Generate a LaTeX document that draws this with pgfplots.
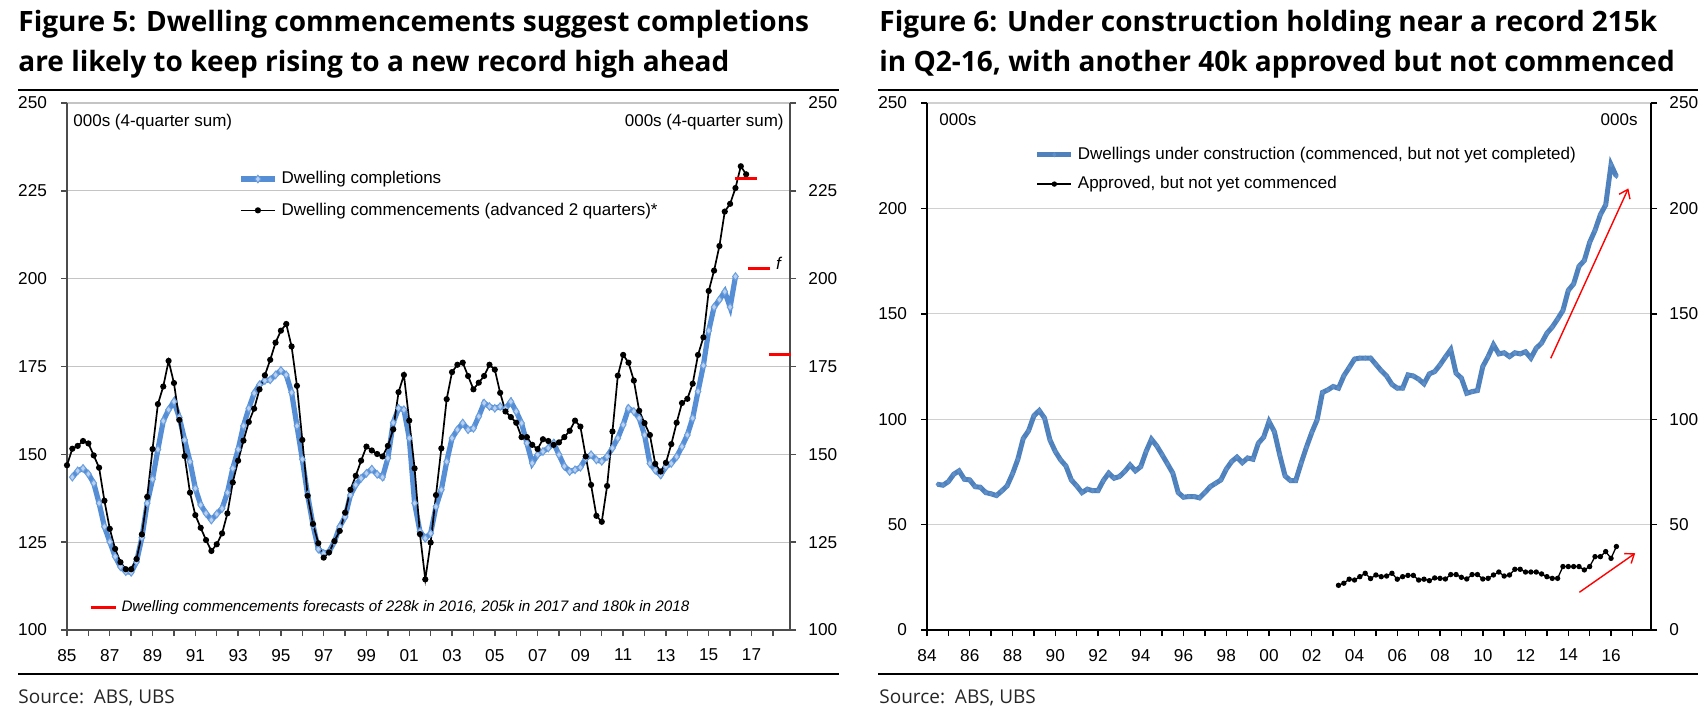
\documentclass[border=0pt]{standalone}
\usepackage{fontspec}
\setmainfont{Liberation Sans}
\newfontfamily\titlefont{Open Sans}
\usepackage{pgfplots}
\pgfplotsset{compat=1.18}
\usetikzlibrary{arrows.meta}

\definecolor{complblue}{HTML}{558ED5}
\definecolor{diafill}{HTML}{B9D0EE}
\definecolor{diadraw}{HTML}{6A9FE0}
\definecolor{ucblue}{HTML}{4F81BD}
\definecolor{ucmark}{HTML}{5F8FC8}
\definecolor{gridgrey}{HTML}{C4C4C4}
\definecolor{fcred}{HTML}{FF0000}

\pgfplotsset{
  panel/.style={
    scale only axis, width=361.5pt, height=263.5pt,
    tick align=outside, major tick length=3pt, minor tick length=3pt,
    ticklabel style={font=\fontsize{8.6}{10}\selectfont},
    /pgf/number format/assume math mode=true,
    yticklabel style={/pgf/number format/fixed},
  },
}

\begin{document}
\begin{tikzpicture}
\path[use as bounding box] (0,0) rectangle (853.5pt,-358pt);

% ---------- titles, rules, sources
\node[anchor=base west, inner sep=0pt, font=\titlefont\bfseries\fontsize{14}{16}\selectfont] at (9pt,-16pt) {Figure 5: Dwelling commencements suggest completions};
\node[anchor=base west, inner sep=0pt, font=\titlefont\bfseries\fontsize{14}{16}\selectfont] at (9pt,-36pt) {are likely to keep rising to a new record high ahead};
\node[anchor=base west, inner sep=0pt, font=\titlefont\bfseries\fontsize{14}{16}\selectfont] at (439.5pt,-16pt) {Figure 6: Under construction holding near a record 215k};
\node[anchor=base west, inner sep=0pt, font=\titlefont\bfseries\fontsize{14}{16}\selectfont] at (439.5pt,-36pt) {in Q2-16, with another 40k approved but not commenced};
\draw[line width=0.85pt] (9pt,-45pt) -- (419.5pt,-45pt);
\draw[line width=0.85pt] (439pt,-45pt) -- (849pt,-45pt);
\draw[line width=1.2pt] (9pt,-337pt) -- (419.5pt,-337pt);
\draw[line width=1.2pt] (439pt,-337pt) -- (849pt,-337pt);
\node[anchor=base west, inner sep=0pt, text=black!85, font=\titlefont\fontsize{9.5}{11}\selectfont] at (9pt,-351.5pt) {Source:\ \ ABS, UBS};
\node[anchor=base west, inner sep=0pt, text=black!85, font=\titlefont\fontsize{9.5}{11}\selectfont] at (439.5pt,-351.5pt) {Source:\ \ ABS, UBS};

% ---------- Figure 5
\begin{axis}[panel, at={(33.5pt,-315pt)}, anchor=south west,
  xmin=1985, xmax=2018.8, ymin=100, ymax=250,
  axis x line*=bottom, axis y line*=left,
  axis line style={-, draw=black!70, line width=0.7pt},
  tick style={draw=black!70, line width=0.7pt},
  ymajorgrids, grid style={draw=gridgrey, line width=0.6pt},
  ytick={100,125,...,250},
  xtick={1985,1987,...,2017},
  xticklabels={85,87,89,91,93,95,97,99,01,03,05,07,09,11,13,15,17},
  minor xtick={1986,1988,...,2018},
  yticklabel style={xshift=-3.5pt},
  xticklabel style={yshift=-3pt},
  legend cell align=left,
  legend style={draw=none, fill=none, at={(0.228,0.826)}, anchor=west,
    font=\fontsize{8.5}{10}\selectfont, row sep=4pt},
]
% Dwelling completions
\addplot[complblue, line width=2.6pt, mark=diamond*, mark size=1.9pt,
  mark options={fill=diafill, draw=diadraw, line width=0.5pt}] coordinates {
(1985.25,143.5) (1985.50,145.3) (1985.75,146.0) (1986.00,144.4) (1986.25,141.8)
(1986.50,136.1) (1986.75,129.4) (1987.00,125.1) (1987.25,120.9) (1987.50,118.0)
(1987.75,116.6) (1988.00,116.4) (1988.25,119.4) (1988.50,126.3) (1988.75,136.1)
(1989.00,142.9) (1989.25,151.4) (1989.50,159.5) (1989.75,162.7) (1990.00,165.0)
(1990.25,160.5) (1990.50,154.1) (1990.75,147.9) (1991.00,140.3) (1991.25,135.6)
(1991.50,133.2) (1991.75,131.3) (1992.00,133.0) (1992.25,134.6) (1992.50,139.1)
(1992.75,146.0) (1993.00,151.4) (1993.25,158.1) (1993.50,163.1) (1993.75,167.4)
(1994.00,169.8) (1994.25,171.0) (1994.50,171.2) (1994.75,172.6) (1995.00,173.9)
(1995.25,172.6) (1995.50,167.6) (1995.75,158.1) (1996.00,148.6) (1996.25,138.4)
(1996.50,129.9) (1996.75,123.0) (1997.00,121.8) (1997.25,122.3) (1997.50,125.1)
(1997.75,129.4) (1998.00,132.2) (1998.25,138.4) (1998.50,141.3) (1998.75,143.2)
(1999.00,144.6) (1999.25,145.8) (1999.50,144.3) (1999.75,143.5) (2000.00,148.9)
(2000.25,159.0) (2000.50,163.1) (2000.75,162.7) (2001.00,154.6) (2001.25,136.1)
(2001.50,128.0) (2001.75,126.1) (2002.00,127.5) (2002.25,135.1) (2002.50,139.9)
(2002.75,147.9) (2003.00,154.6) (2003.25,157.0) (2003.50,158.9) (2003.75,157.0)
(2004.00,157.4) (2004.25,160.8) (2004.50,164.6) (2004.75,163.6) (2005.00,163.1)
(2005.25,163.6) (2005.50,163.0) (2005.75,165.0) (2006.00,162.2) (2006.25,158.9)
(2006.50,153.2) (2006.75,147.5) (2007.00,149.9) (2007.25,150.8) (2007.50,151.8)
(2007.75,153.2) (2008.00,149.9) (2008.25,146.6) (2008.50,145.1) (2008.75,145.6)
(2009.00,146.3) (2009.25,148.8) (2009.50,149.9) (2009.75,148.4) (2010.00,148.0)
(2010.25,149.4) (2010.50,151.8) (2010.75,154.6) (2011.00,158.4) (2011.25,163.1)
(2011.50,162.2) (2011.75,160.3) (2012.00,155.5) (2012.25,147.4) (2012.50,145.5)
(2012.75,144.1) (2013.00,146.5) (2013.25,147.4) (2013.50,149.3) (2013.75,152.2)
(2014.00,155.5) (2014.25,160.3) (2014.50,167.9) (2014.75,175.3) (2015.00,185.2)
(2015.25,191.9) (2015.50,194.0) (2015.75,196.3) (2016.00,191.9) (2016.25,200.6)
};
\addlegendentry{Dwelling completions}
% Dwelling commencements, advanced 2 quarters
\addplot[black, line width=0.85pt, mark=*, mark size=1.1pt] coordinates {
(1985.00,146.9) (1985.25,151.6) (1985.50,152.4) (1985.75,153.8) (1986.00,153.1)
(1986.25,149.7) (1986.50,146.2) (1986.75,136.8) (1987.00,128.8) (1987.25,123.1)
(1987.50,119.3) (1987.75,117.3) (1988.00,117.3) (1988.25,120.2) (1988.50,127.2)
(1988.75,137.9) (1989.00,151.5) (1989.25,164.3) (1989.50,169.3) (1989.75,176.6)
(1990.00,170.3) (1990.25,159.8) (1990.50,149.5) (1990.75,139.1) (1991.00,132.7)
(1991.25,129.1) (1991.50,125.6) (1991.75,122.5) (1992.00,124.4) (1992.25,127.5)
(1992.50,133.2) (1992.75,142.0) (1993.00,148.2) (1993.25,153.9) (1993.50,159.2)
(1993.75,163.0) (1994.00,168.5) (1994.25,172.5) (1994.50,176.9) (1994.75,181.8)
(1995.00,185.2) (1995.25,187.1) (1995.50,180.7) (1995.75,169.5) (1996.00,154.1)
(1996.25,138.2) (1996.50,130.2) (1996.75,124.7) (1997.00,120.6) (1997.25,122.1)
(1997.50,125.3) (1997.75,128.2) (1998.00,133.4) (1998.25,139.9) (1998.50,143.9)
(1998.75,148.2) (1999.00,152.2) (1999.25,151.1) (1999.50,150.1) (1999.75,149.4)
(2000.00,152.4) (2000.25,157.1) (2000.50,167.7) (2000.75,172.6) (2001.00,159.6)
(2001.25,146.0) (2001.50,127.3) (2001.75,114.4) (2002.00,124.9) (2002.25,138.4)
(2002.50,151.7) (2002.75,165.7) (2003.00,173.4) (2003.25,175.5) (2003.50,176.1)
(2003.75,172.3) (2004.00,168.5) (2004.25,170.4) (2004.50,172.3) (2004.75,175.5)
(2005.00,174.1) (2005.25,167.5) (2005.50,162.2) (2005.75,160.6) (2006.00,159.0)
(2006.25,154.9) (2006.50,154.9) (2006.75,152.7) (2007.00,151.5) (2007.25,154.3)
(2007.50,153.8) (2007.75,152.7) (2008.00,153.4) (2008.25,154.9) (2008.50,156.7)
(2008.75,159.6) (2009.00,157.9) (2009.25,149.4) (2009.50,141.3) (2009.75,132.5)
(2010.00,130.8) (2010.25,141.0) (2010.50,156.5) (2010.75,172.4) (2011.00,178.3)
(2011.25,176.1) (2011.50,171.0) (2011.75,162.4) (2012.00,158.9) (2012.25,155.5)
(2012.50,147.3) (2012.75,145.1) (2013.00,147.6) (2013.25,152.9) (2013.50,159.0)
(2013.75,164.6) (2014.00,165.8) (2014.25,170.1) (2014.50,178.3) (2014.75,183.3)
(2015.00,196.5) (2015.25,202.3) (2015.50,209.3) (2015.75,219.1) (2016.00,221.3)
(2016.25,225.8) (2016.50,232.0) (2016.75,229.7)
};
\addlegendentry{Dwelling commencements (advanced 2 quarters)*}
\node[anchor=west, inner sep=0pt, font=\fontsize{8.5}{10}\selectfont] at (axis description cs:0.0083,0.964) {000s (4-quarter sum)};
\node[anchor=east, inner sep=0pt, font=\fontsize{8.5}{10}\selectfont] at (axis description cs:0.9917,0.964) {000s (4-quarter sum)};
\node[font=\fontsize{8.5}{10}\selectfont\itshape] at (axis cs:2018.26,204.4) {f};
\end{axis}

% right-hand scale of Figure 5 and the forecasts
\begin{axis}[panel, at={(33.5pt,-315pt)}, anchor=south west,
  xmin=1985, xmax=2018.8, ymin=100, ymax=250,
  axis x line=none, axis y line*=right, xtick=\empty,
  axis line style={-, draw=black!70, line width=0.7pt},
  tick style={draw=black!70, line width=0.7pt},
  ytick={100,125,...,250},
  yticklabel style={xshift=2.7pt},
  unbounded coords=jump, clip=false,
  legend cell align=left,
  legend image code/.code={\draw[#1] (0pt,0pt) -- (12.5pt,0pt);},
  legend style={draw=none, fill=none, at={(0.022,0.042)}, anchor=west,
    font=\fontsize{7.6}{9}\selectfont\itshape},
]
\addplot[fcred, line width=1.6pt] coordinates {
(2016.25,228.5) (2017.27,228.5) (2017.3,nan)
(2016.85,203.0) (2017.88,203.0) (2017.9,nan)
(2017.84,178.5) (2018.85,178.5)
};
\addlegendentry{Dwelling commencements forecasts of 228k in 2016, 205k in 2017 and 180k in 2018}
\end{axis}

% ---------- Figure 6
\begin{axis}[panel, at={(463.5pt,-315pt)}, anchor=south west, width=362pt,
  xmin=1984, xmax=2017.87, ymin=0, ymax=250,
  axis x line*=bottom, axis y line*=left,
  axis line style={-, draw=black, line width=0.7pt},
  tick style={draw=black, line width=0.7pt},
  ymajorgrids, grid style={draw=gridgrey!80, line width=0.6pt},
  ytick={0,50,...,250},
  xtick={1984,1986,...,2016},
  xticklabels={84,86,88,90,92,94,96,98,00,02,04,06,08,10,12,14,16},
  minor xtick={1985,1987,...,2017},
  yticklabel style={xshift=-3.5pt},
  xticklabel style={yshift=-3pt},
  legend cell align=left,
  legend style={draw=none, fill=none, at={(0.140,0.874)}, anchor=west,
    font=\fontsize{8.5}{10}\selectfont, row sep=3pt},
]
% Dwellings under construction
\addplot[ucblue, line width=2.5pt, mark=diamond*, mark size=1.1pt,
  mark options={fill=ucmark, draw=ucmark, line width=0.3pt}] coordinates {
(1984.50,69.1) (1984.75,68.7) (1985.00,70.4) (1985.25,73.9) (1985.50,75.5)
(1985.75,71.5) (1986.00,71.2) (1986.25,68.0) (1986.50,67.7) (1986.75,65.2)
(1987.00,64.6) (1987.25,63.8) (1987.50,66.0) (1987.75,68.4) (1988.00,74.1)
(1988.25,81.0) (1988.50,90.8) (1988.75,94.5) (1989.00,101.6) (1989.25,104.1)
(1989.50,100.5) (1989.75,90.2) (1990.00,84.7) (1990.25,80.7) (1990.50,77.8)
(1990.75,71.2) (1991.00,68.4) (1991.25,65.2) (1991.50,66.8) (1991.75,66.1)
(1992.00,66.1) (1992.25,70.9) (1992.50,74.4) (1992.75,72.0) (1993.00,72.8)
(1993.25,75.2) (1993.50,78.3) (1993.75,75.5) (1994.00,77.5) (1994.25,84.7)
(1994.50,90.5) (1994.75,87.3) (1995.00,83.1) (1995.25,78.8) (1995.50,74.4)
(1995.75,65.2) (1996.00,63.0) (1996.25,63.3) (1996.50,63.3) (1996.75,62.7)
(1997.00,65.2) (1997.25,68.0) (1997.50,69.6) (1997.75,71.2) (1998.00,76.3)
(1998.25,79.9) (1998.50,82.0) (1998.75,79.4) (1999.00,81.6) (1999.25,81.0)
(1999.50,88.6) (1999.75,91.5) (2000.00,98.9) (2000.25,94.1) (2000.50,83.1)
(2000.75,73.1) (2001.00,70.9) (2001.25,70.9) (2001.50,79.1) (2001.75,86.7)
(2002.00,93.7) (2002.25,99.7) (2002.50,112.7) (2002.75,113.9) (2003.00,115.5)
(2003.25,114.7) (2003.50,120.6) (2003.75,124.5) (2004.00,128.5) (2004.25,129.0)
(2004.50,129.0) (2004.75,129.0) (2005.00,126.0) (2005.25,123.0) (2005.50,120.5)
(2005.75,116.5) (2006.00,114.7) (2006.25,114.7) (2006.50,121.0) (2006.75,120.5)
(2007.00,119.0) (2007.25,116.8) (2007.50,121.5) (2007.75,122.6) (2008.00,125.8)
(2008.25,129.5) (2008.50,133.0) (2008.75,121.8) (2009.00,119.5) (2009.25,112.3)
(2009.50,113.1) (2009.75,113.6) (2010.00,125.0) (2010.25,129.7) (2010.50,135.3)
(2010.75,131.0) (2011.00,131.5) (2011.25,129.7) (2011.50,131.5) (2011.75,131.0)
(2012.00,132.0) (2012.25,129.0) (2012.50,133.7) (2012.75,136.1) (2013.00,140.8)
(2013.25,143.7) (2013.50,147.5) (2013.75,151.6) (2014.00,161.1) (2014.25,164.2)
(2014.50,172.5) (2014.75,175.3) (2015.00,183.9) (2015.25,189.6) (2015.50,197.0)
(2015.75,201.7) (2016.00,220.7) (2016.25,215.2)
};
\addlegendentry{Dwellings under construction (commenced, but not yet completed)}
% Approved, but not yet commenced
\addplot[black, line width=0.65pt, mark=*, mark size=1.0pt] coordinates {
(2003.25,21.2) (2003.50,22.2) (2003.75,24.1) (2004.00,23.7) (2004.25,25.3)
(2004.50,26.9) (2004.75,24.4) (2005.00,26.1) (2005.25,25.3) (2005.50,25.6)
(2005.75,26.9) (2006.00,24.1) (2006.25,25.3) (2006.50,25.9) (2006.75,25.9)
(2007.00,23.7) (2007.25,24.1) (2007.50,23.4) (2007.75,24.7) (2008.00,24.5)
(2008.25,24.2) (2008.50,26.3) (2008.75,26.3) (2009.00,25.0) (2009.25,24.2)
(2009.50,26.3) (2009.75,26.3) (2010.00,24.2) (2010.25,24.5) (2010.50,26.1)
(2010.75,27.5) (2011.00,25.6) (2011.25,26.1) (2011.50,28.8) (2011.75,28.8)
(2012.00,27.5) (2012.25,27.5) (2012.50,27.5) (2012.75,26.6) (2013.00,25.3)
(2013.25,24.5) (2013.50,24.5) (2013.75,30.1) (2014.00,30.1) (2014.25,30.1)
(2014.50,30.1) (2014.75,28.5) (2015.00,30.1) (2015.25,34.8) (2015.50,34.8)
(2015.75,37.2) (2016.00,34.0) (2016.25,39.6)
};
\addlegendentry{Approved, but not yet commenced}
\draw[fcred, line width=0.7pt, -{Straight Barb[length=4pt,width=6pt]}] (axis cs:2013.18,128.9) -- (axis cs:2016.81,209.5);
\draw[fcred, line width=0.7pt, -{Straight Barb[length=4pt,width=6pt]}] (axis cs:2014.52,17.9) -- (axis cs:2017.13,36.4);
\node[anchor=west, inner sep=0pt, font=\fontsize{8.5}{10}\selectfont] at (axis description cs:0.0166,0.968) {000s};
\node[anchor=east, inner sep=0pt, font=\fontsize{8.5}{10}\selectfont] at (axis description cs:0.982,0.968) {000s};
\end{axis}

% right-hand scale of Figure 6
\begin{axis}[panel, at={(463.5pt,-315pt)}, anchor=south west, width=362pt,
  xmin=1984, xmax=2017.87, ymin=0, ymax=250,
  axis x line=none, axis y line*=right, xtick=\empty,
  axis line style={-, draw=black, line width=0.7pt},
  tick style={draw=black, line width=0.7pt},
  ytick={0,50,...,250},
  yticklabel style={xshift=2.7pt},
]
\end{axis}
\end{tikzpicture}
\end{document}
